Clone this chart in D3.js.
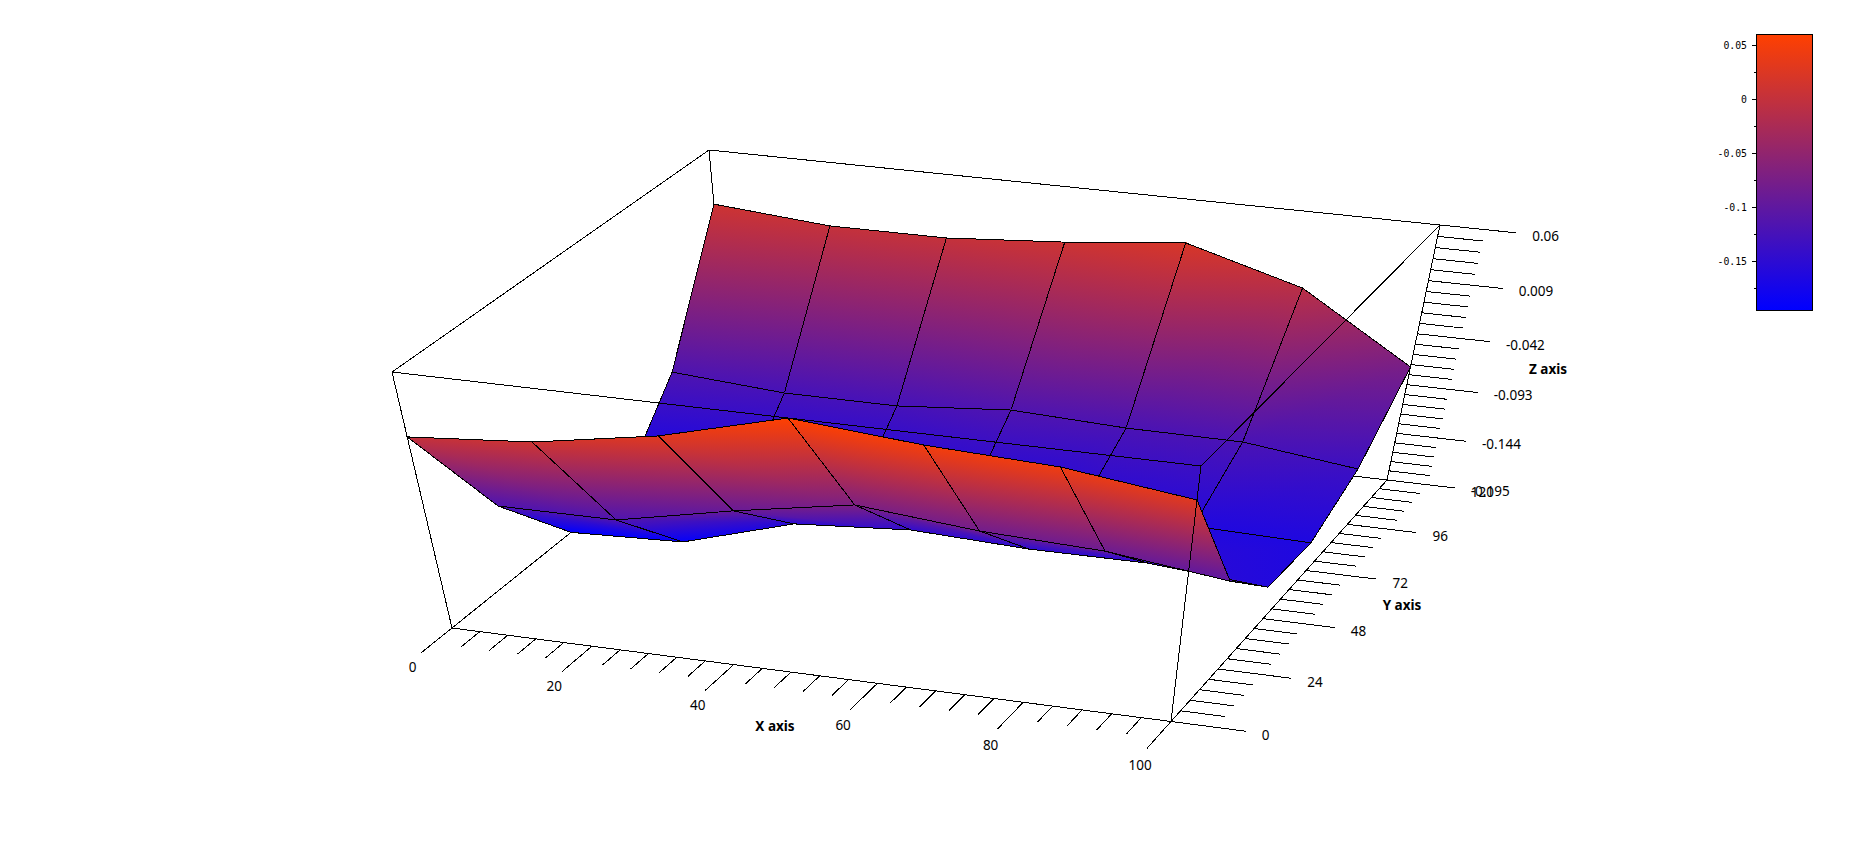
<!DOCTYPE html><html><head><meta charset="utf-8"><script src="https://cdn.jsdelivr.net/npm/d3@7"></script>
<style>html,body{margin:0;background:#fff}svg{display:block}</style></head><body><svg id="c" width="1869" height="862"></svg><script>
const xGrid=[0,16.667,33.333,50,66.667,83.333,100];
const yGrid=[0,24,48,72,96,120];
const zRow0=[0.0005,0.0099,0.0297,0.0600,0.0499,0.0445,0.0292];
const zRow24=[-0.1162,-0.1156,-0.0911,-0.0701,-0.0812,-0.0862,-0.1011];
const zRow48=[-0.1950,-0.1901,-0.1549,-0.1461,-0.1511,-0.1506,-0.1605];
const zRow72=[-0.1880,-0.1950,-0.1930,-0.1825,-0.1650,-0.1619,-0.1646];
const zRow96=[-0.1166,-0.1250,-0.1249,-0.1154,-0.1203,-0.1208,-0.1349];
const zRow120=[0.0100,0.0009,0.0012,0.0091,0.0202,-0.0103,-0.0750];
const zRows=[zRow0,zRow24,zRow48,zRow72,zRow96,zRow120];
const xTicks=[0,20,40,60,80,100];
const yTicks=[0,24,48,72,96,120];
const zTicks=[0.06,0.009,-0.042,-0.093,-0.144,-0.195];
const zTickLabels=["0.06","0.009","-0.042","-0.093","-0.144","-0.195"];
const barTicks=[0.05,0,-0.05,-0.1,-0.15];
const barLabels=["0.05","0","-0.05","-0.1","-0.15"];
const barMinor=[0.025,-0.025,-0.075,-0.125,-0.175];
const colorLow="#0000ff",colorHigh="#ff4000";

const zMin=-0.195,zMax=0.06;
const sx=d3.scaleLinear([0,100],[0,1]),sy=d3.scaleLinear([0,120],[0,1]),st=d3.scaleLinear([zMin,zMax],[0,1]);
const colorT=d3.scaleLinear([0,1],[colorLow,colorHigh]).interpolate(d3.interpolateRgb);
function quad(q){const [x0,y0]=q[0],[x1,y1]=q[1],[x2,y2]=q[2],[x3,y3]=q[3];
const Sx=x0-x1+x2-x3,Sy=y0-y1+y2-y3,dx1=x1-x2,dx2=x3-x2,dy1=y1-y2,dy2=y3-y2,den=dx1*dy2-dx2*dy1;
const g=(Sx*dy2-dx2*Sy)/den,h=(dx1*Sy-Sx*dy1)/den,a=x1-x0+g*x1,b=x3-x0+h*x3,d=y1-y0+g*y1,e=y3-y0+h*y3;
return (u,v)=>{const w=g*u+h*v+1;return [(a*u+b*v+x0)/w,(d*u+e*v+y0)/w];};}
const Hb=quad([[452,628],[1171,721.5],[1387,480],[732,403]]);
const Ht=quad([[392,372],[1201,466],[1440,225],[709,150]]);
const persp=0.896;
function project(x,y,z){const u=sx(x),v=sy(y),t=st(z),B=Hb(u,v),T=Ht(u,v),tp=t*persp/(1-t+t*persp);
 return [B[0]+(T[0]-B[0])*tp,B[1]+(T[1]-B[1])*tp];}

const svg=d3.select("#c");const defs=svg.append("defs");
const font="'Noto Sans',sans-serif";
function seg(g,a,b){g.append("line").attr("x1",a[0]).attr("y1",a[1]).attr("x2",b[0]).attr("y2",b[1]).attr("stroke","#000").attr("stroke-width",1).attr("shape-rendering","crispEdges");}

// back box edges
const back=svg.append("g");
const [x0,x1]=[0,100],[y0,y1]=[0,120];
seg(back,project(x0,y0,zMin),project(x0,y1,zMin));
seg(back,project(x0,y1,zMin),project(x1,y1,zMin));
seg(back,project(x0,y1,zMin),project(x0,y1,zMax));

// surface
const surf=svg.append("g");let gid=0;
function tri(g,pts,vals){
 const [p0,p1,p2]=pts,[c0,c1,c2]=vals;
 const a=p1[0]-p0[0],b=p1[1]-p0[1],c=p2[0]-p0[0],d=p2[1]-p0[1],det=a*d-b*c;
 let fill;
 const e1=c1-c0,e2=c2-c0;
 if(Math.abs(det)<1e-6) fill=colorT(c0);
 else{
  const gx=(e1*d-e2*b)/det,gy=(a*e2-c*e1)/det,n=gx*gx+gy*gy;
  if(n<1e-12) fill=colorT(c0);
  else{
   const id="g"+(gid++);
   const lg=defs.append("linearGradient").attr("id",id).attr("gradientUnits","userSpaceOnUse")
    .attr("x1",p0[0]-gx*c0/n).attr("y1",p0[1]-gy*c0/n).attr("x2",p0[0]+gx*(1-c0)/n).attr("y2",p0[1]+gy*(1-c0)/n);
   lg.append("stop").attr("offset",0).attr("stop-color",colorLow);
   lg.append("stop").attr("offset",1).attr("stop-color",colorHigh);
   fill=`url(#${id})`;
  }
 }
 g.append("path").attr("d",d3.line()(pts)+"Z").attr("fill",fill).attr("stroke",fill).attr("stroke-width",1).attr("shape-rendering","crispEdges");
}
for(let j=yGrid.length-2;j>=0;j--){
 for(let i=0;i<xGrid.length-1;i++){
  const c=[[i,j],[i+1,j],[i+1,j+1],[i,j+1]];
  const pts=c.map(([a,b])=>project(xGrid[a],yGrid[b],zRows[b][a]));
  const vals=c.map(([a,b])=>st(zRows[b][a]));
  const g=surf.append("g");
  tri(g,[pts[0],pts[1],pts[2]],[vals[0],vals[1],vals[2]]);
  tri(g,[pts[0],pts[2],pts[3]],[vals[0],vals[2],vals[3]]);
  g.append("path").attr("d",d3.line()(pts)+"Z").attr("fill","none").attr("stroke","#000").attr("stroke-width",1).attr("shape-rendering","crispEdges");
 }
}

// front box edges
const box=svg.append("g");
const TL=project(x0,y0,zMax),TF=project(x1,y0,zMax),TR=project(x1,y1,zMax),TB=project(x0,y1,zMax);
const BL=project(x0,y0,zMin),BF=project(x1,y0,zMin),BR=project(x1,y1,zMin);
[[TL,TB],[TB,TR],[TR,TF],[TF,TL],[TL,BL],[TF,BF],[TR,BR],[BL,BF],[BF,BR]].forEach(e=>seg(box,e[0],e[1]));

// ticks
const ticks=svg.append("g"),labels=svg.append("g").attr("font-family",font).attr("font-size",13.5).attr("fill","#000");
function sub(arr,n){const out=[];for(let k=0;k<arr.length-1;k++)for(let m=1;m<n;m++)out.push(arr[k]+(arr[k+1]-arr[k])*m/n);return out;}
const majorFrac=0.10,minorFrac=0.06;
xTicks.forEach(v=>{const a=project(v,0,zMin),b=project(v,-120*majorFrac,zMin);seg(ticks,a,b);
 labels.append("text").attr("x",b[0]-8+v*0.015).attr("y",b[1]+13.5+v*0.03).attr("dy","0.36em").attr("text-anchor","middle").text(v);});
sub(xTicks,5).forEach(v=>seg(ticks,project(v,0,zMin),project(v,-120*minorFrac,zMin)));
yTicks.forEach(v=>{const a=project(100,v,zMin),b=project(100+100*majorFrac,v,zMin);seg(ticks,a,b);
 labels.append("text").attr("x",b[0]+16).attr("y",b[1]+4).attr("dy","0.36em").text(v);});
sub(yTicks,5).forEach(v=>seg(ticks,project(100,v,zMin),project(100+100*minorFrac,v,zMin)));
zTicks.forEach((v,k)=>{const a=project(100,120,v),b=project(100+100*majorFrac,120,v);seg(ticks,a,b);
 labels.append("text").attr("x",b[0]+16).attr("y",b[1]+3).attr("dy","0.36em").text(zTickLabels[k]);});
sub(zTicks,5).forEach(v=>seg(ticks,project(100,120,v),project(100+100*minorFrac,120,v)));

// axis titles
const titles=svg.append("g").attr("font-family",font).attr("font-size",13.5).attr("font-weight",700).attr("text-anchor","middle");
[["X axis",775,726],["Y axis",1402,605],["Z axis",1548,369]].forEach(t=>titles.append("text").attr("x",t[1]).attr("y",t[2]).attr("dy","0.36em").text(t[0]));

// colour bar
const barScale=d3.scaleLinear([-0.195,0.0606],[310,34.3]);
const barX0=1756.5,barX1=1812;
const bg=defs.append("linearGradient").attr("id","bar").attr("x1",0).attr("y1",1).attr("x2",0).attr("y2",0);
bg.append("stop").attr("offset",0).attr("stop-color",colorLow);
bg.append("stop").attr("offset",1).attr("stop-color",colorHigh);
svg.append("rect").attr("x",barX0).attr("y",barScale(0.0606)).attr("width",barX1-barX0).attr("height",barScale(-0.195)-barScale(0.0606))
 .attr("fill","url(#bar)").attr("stroke","#000").attr("stroke-width",1).attr("shape-rendering","crispEdges");
const ax=svg.append("g").attr("font-family","'DejaVu Sans Mono',monospace").attr("font-size",9.8).attr("fill","#000");
barTicks.forEach((v,k)=>{const y=barScale(v);seg(ax,[barX0-4.5,y],[barX0,y]);
 ax.append("text").attr("x",barX0-9.5).attr("y",y).attr("dy","0.36em").attr("text-anchor","end").text(barLabels[k]);});
barMinor.forEach(v=>{const y=barScale(v);seg(ax,[barX0-2.5,y],[barX0,y]);});
</script></body></html>
